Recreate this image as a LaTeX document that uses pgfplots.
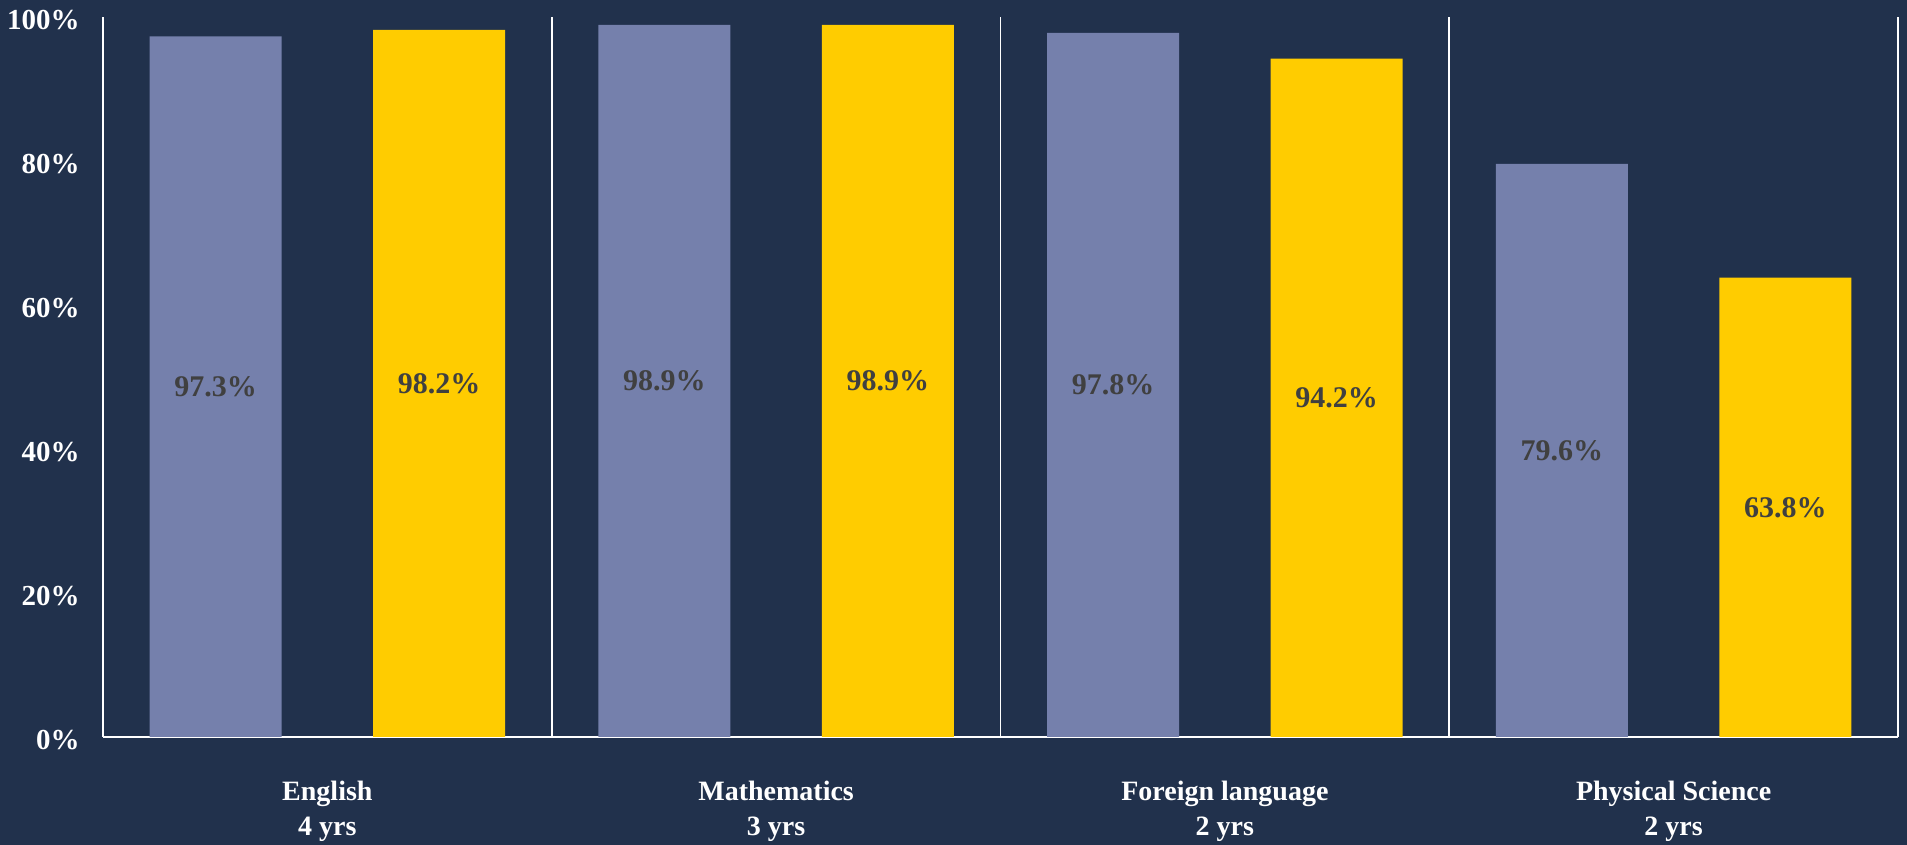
\documentclass[border=0pt]{standalone}
\usepackage{fontspec}
\setmainfont{Liberation Serif}
\usepackage{pgfplots}
\usepackage{pgfplotstable}
\pgfplotsset{compat=1.18}
\definecolor{bg}{HTML}{21314C}
\definecolor{barblue}{HTML}{7580AC}
\definecolor{baryellow}{HTML}{FFCC00}
\definecolor{lbl}{HTML}{404040}
\pgfplotstableread{
x blue yellow
0 97.3 98.2
1 98.9 98.9
2 97.8 94.2
3 79.6 63.8
}\datatable
\begin{document}
\begin{tikzpicture}
\path[use as bounding box, fill=bg] (0,0) rectangle (953.5pt,422.5pt);
\begin{axis}[
  at={(51.5pt,54pt)}, anchor=south west,
  scale only axis, width=897.5pt, height=360pt,
  xmin=-0.5, xmax=3.5, ymin=0, ymax=100,
  axis lines*=left,
  axis line style={white, line width=0.9pt},
  /pgf/number format/assume math mode=true,
  ytick={0,20,40,60,80,100},
  yticklabel={\pgfmathprintnumber{\tick}\%},
  yticklabel style={font=\fontsize{14.5}{16}\selectfont\bfseries, text=white, inner sep=0pt, xshift=-11.5pt, yshift=-1.5pt},
  xtick={0,1,2,3},
  xticklabels={{English\\4 yrs},{Mathematics\\3 yrs},{Foreign language\\2 yrs},{Physical Science\\2 yrs}},
  xticklabel style={font=\fontsize{14}{17.5}\selectfont\bfseries, text=white, align=center, inner sep=0pt, yshift=-22pt},
  major tick length=0pt,
  extra x ticks={0.5,1.5,2.5,3.5},
  extra x tick labels={},
  extra x tick style={grid=major, major grid style={white, line width=0.9pt}, major tick length=0pt},
  clip=false,
]
\addplot[ybar, fill=barblue, draw=none, bar width=0.294, bar shift=-0.249] table[x=x, y=blue] {\datatable};
\addplot[ybar, fill=baryellow, draw=none, bar width=0.294, bar shift=0.249] table[x=x, y=yellow] {\datatable};
\addplot[draw=none, mark=none, nodes near coords={\pgfmathprintnumber[fixed, precision=1, fixed zerofill]{\pgfplotspointmeta}\%},
  nodes near coords style={anchor=center, text=lbl, font=\fontsize{15}{16}\selectfont\bfseries, inner sep=0pt},
  point meta=explicit]
  table[x expr=\thisrow{x}-0.249, y expr=\thisrow{blue}/2, meta=blue] {\datatable};
\addplot[draw=none, mark=none, nodes near coords={\pgfmathprintnumber[fixed, precision=1, fixed zerofill]{\pgfplotspointmeta}\%},
  nodes near coords style={anchor=center, text=lbl, font=\fontsize{15}{16}\selectfont\bfseries, inner sep=0pt},
  point meta=explicit]
  table[x expr=\thisrow{x}+0.249, y expr=\thisrow{yellow}/2, meta=yellow] {\datatable};
\end{axis}
\end{tikzpicture}
\end{document}
